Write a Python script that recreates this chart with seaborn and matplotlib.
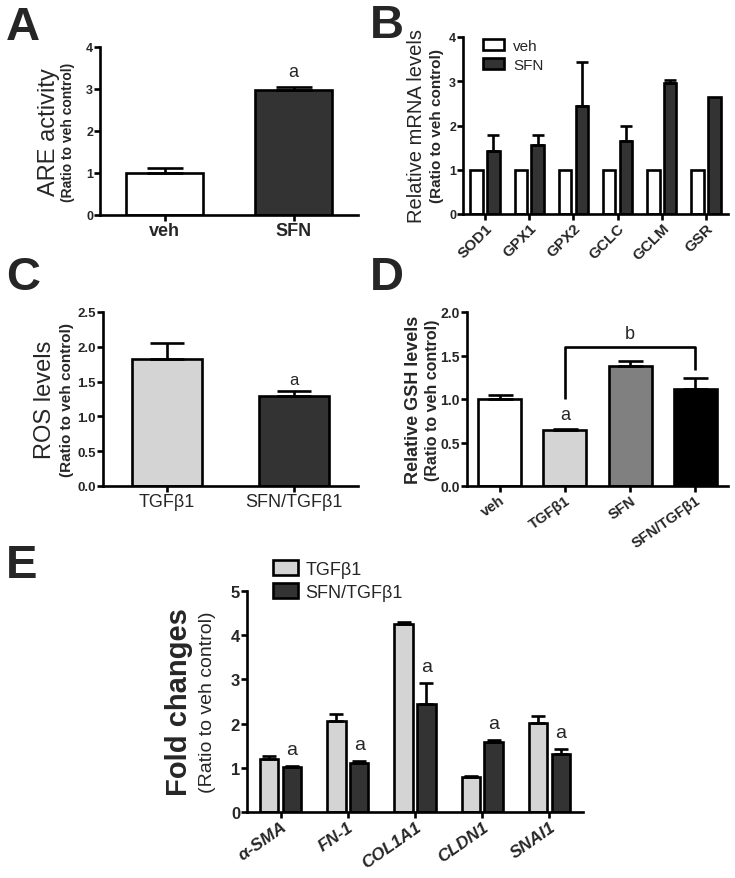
import matplotlib
matplotlib.use('Agg')
import matplotlib.pyplot as plt
import numpy as np
import pandas as pd
import seaborn as sns

sns.set_style('white')
plt.rcParams['font.family'] = ['Liberation Sans', 'DejaVu Sans']

# panel A - ARE activity
a_groups = ['veh', 'SFN']
a_values = [1.0, 2.98]
a_errors = [0.12, 0.06]
a_sig = ['', 'a']

# panel B - mRNA levels
b_genes = ['SOD1', 'GPX1', 'GPX2', 'GCLC', 'GCLM', 'GSR']
b_veh = [1.0, 1.0, 1.0, 1.0, 1.0, 1.0]
b_veh_err = [0, 0, 0, 0, 0, 0]
b_sfn = [1.43, 1.55, 2.45, 1.66, 2.95, 2.65]
b_sfn_err = [0.35, 0.23, 0.99, 0.32, 0.08, 0.0]

# panel C - ROS
c_groups = ['TGFβ1', 'SFN/TGFβ1']
c_values = [1.83, 1.30]
c_errors = [0.22, 0.06]
c_sig = ['', 'a']

# panel D - GSH
d_groups = ['veh', 'TGFβ1', 'SFN', 'SFN/TGFβ1']
d_values = [1.0, 0.64, 1.38, 1.11]
d_errors = [0.05, 0.02, 0.06, 0.13]
d_sig = ['', 'a', '', '']

# panel E - fold changes
e_genes = ['α-SMA', 'FN-1', 'COL1A1', 'CLDN1', 'SNAI1']
e_tgf = [1.21, 2.07, 4.26, 0.79, 2.02]
e_tgf_err = [0.05, 0.15, 0.04, 0.03, 0.16]
e_sfn = [1.01, 1.11, 2.45, 1.59, 1.32]
e_sfn_err = [0.03, 0.05, 0.46, 0.04, 0.10]
e_sig = ['a', 'a', 'a', 'a', 'a']

W, H = 735, 879
LW = 1.9
fig = plt.figure(figsize=(W / 100, H / 100), dpi=100)


def make_ax(l, r, t, b):
    return fig.add_axes([l / W, 1 - b / H, (r - l) / W, (b - t) / H])


def style(ax, top, step, fmt, ysize):
    sns.despine(ax=ax)
    for s in ['left', 'bottom']:
        ax.spines[s].set_linewidth(LW)
        ax.spines[s].set_color('black')
    ax.set_ylim(0, top)
    ticks = np.arange(0, top + step / 2, step)
    ax.set_yticks(ticks)
    ax.set_yticklabels([fmt.format(t) for t in ticks], fontsize=ysize, fontweight='bold')
    ax.tick_params(axis='both', direction='out', width=LW, length=4, color='black', pad=1,
                   left=True, bottom=True)
    ax.set_xlabel('')
    ax.set_ylabel('')


def ylabels(ax, main, sub, off_main, off_sub, main_kw, sub_kw):
    ax.annotate(main, xy=(0, 0.5), xycoords='axes fraction', xytext=(off_main * 0.72, 0),
                textcoords='offset points', rotation=90, ha='center', va='center', **main_kw)
    ax.annotate(sub, xy=(0, 0.5), xycoords='axes fraction', xytext=(off_sub * 0.72, 0),
                textcoords='offset points', rotation=90, ha='center', va='center', **sub_kw)


def add_errors(ax, errs, capsize):
    for p, e in zip(ax.patches, errs):
        if e <= 0:
            continue
        x = p.get_x() + p.get_width() / 2
        ax.errorbar(x, p.get_height(), yerr=[[0], [e]], fmt='none', ecolor='black',
                    elinewidth=LW, capsize=capsize, capthick=LW)


def add_sig(ax, errs, sig, pad, size):
    for p, e, s in zip(ax.patches, errs, sig):
        if s:
            x = p.get_x() + p.get_width() / 2
            ax.text(x, p.get_height() + e + pad, s, ha='center', va='bottom', fontsize=size)


# ---- A
ax = make_ax(100, 358, 48, 216)
dfa = pd.DataFrame({'group': a_groups, 'value': a_values})
sns.barplot(data=dfa, x='group', y='value', hue='group', order=a_groups, hue_order=a_groups,
            palette={'veh': 'white', 'SFN': '#333333'}, legend=False, width=0.6,
            edgecolor='black', linewidth=LW, errorbar=None, ax=ax)
style(ax, 4, 1, '{:.0f}', 9)
ax.set_xlim(-0.5, 1.5)
add_errors(ax, a_errors, 13)
add_sig(ax, a_errors, a_sig, 0.18, 13)
ax.tick_params(axis='x', labelsize=13)
for t in ax.get_xticklabels():
    t.set_fontweight('bold')
ylabels(ax, 'ARE activity', '(Ratio to veh control)', -51, -32,
        dict(fontsize=17), dict(fontsize=10, fontweight='bold'))

# ---- B
ax = make_ax(463, 728, 38, 215)
dfb = pd.DataFrame({'gene': b_genes * 2, 'value': b_veh + b_sfn,
                    'treat': ['veh'] * len(b_genes) + ['SFN'] * len(b_genes)})
sns.barplot(data=dfb, x='gene', y='value', hue='treat', order=b_genes, hue_order=['veh', 'SFN'],
            palette={'veh': 'white', 'SFN': '#333333'}, width=0.76, gap=0.25,
            edgecolor='black', linewidth=LW, errorbar=None, ax=ax)
style(ax, 4, 1, '{:.0f}', 9)
ax.set_xlim(-0.5, 5.5)
add_errors(ax, b_veh_err + b_sfn_err, 4)
h, l = ax.get_legend_handles_labels()
ax.legend(h, l, frameon=False, loc='upper left', bbox_to_anchor=(0.075, 0.99), borderpad=0,
          borderaxespad=0, fontsize=11, handlelength=1.4, handleheight=0.75,
          labelspacing=0.35, handletextpad=0.6)
ax.set_xticks(range(len(b_genes)))
ax.set_xticklabels(b_genes, rotation=45, ha='right', rotation_mode='anchor',
                   fontsize=11, fontweight='bold')
ylabels(ax, 'Relative mRNA levels', '(Ratio to veh control)', -46, -26,
        dict(fontsize=14.5), dict(fontsize=11, fontweight='bold'))

# ---- C
ax = make_ax(103, 358, 313, 487)
dfc = pd.DataFrame({'group': c_groups, 'value': c_values})
sns.barplot(data=dfc, x='group', y='value', hue='group', order=c_groups, hue_order=c_groups,
            palette={'TGFβ1': '#d4d4d4', 'SFN/TGFβ1': '#333333'}, legend=False, width=0.55,
            edgecolor='black', linewidth=LW, errorbar=None, ax=ax)
style(ax, 2.5, 0.5, '{:.1f}', 9.5)
ax.set_xlim(-0.5, 1.5)
add_errors(ax, c_errors, 12)
add_sig(ax, c_errors, c_sig, 0.06, 12)
ax.tick_params(axis='x', labelsize=13)
ylabels(ax, 'ROS levels', '(Ratio to veh control)', -58, -36,
        dict(fontsize=17), dict(fontsize=11, fontweight='bold'))

# ---- D
ax = make_ax(467, 728, 313, 487)
dfd = pd.DataFrame({'group': d_groups, 'value': d_values})
sns.barplot(data=dfd, x='group', y='value', hue='group', order=d_groups, hue_order=d_groups,
            palette={'veh': 'white', 'TGFβ1': '#d4d4d4', 'SFN': '#808080', 'SFN/TGFβ1': 'black'},
            legend=False, width=0.66, edgecolor='black', linewidth=LW, errorbar=None, ax=ax)
style(ax, 2.0, 0.5, '{:.1f}', 10)
ax.set_xlim(-0.5, 3.5)
add_errors(ax, d_errors, 9)
add_sig(ax, d_errors, d_sig, 0.06, 13)
p1, p3 = ax.patches[1], ax.patches[3]
x1 = p1.get_x() + p1.get_width() / 2
x3 = p3.get_x() + p3.get_width() / 2
ax.plot([x1, x1, x3, x3], [1.0, 1.6, 1.6, 1.33], color='black', lw=LW, solid_capstyle='butt')
ax.text((x1 + x3) / 2, 1.66, 'b', ha='center', va='bottom', fontsize=13)
ax.set_xticks(range(len(d_groups)))
ax.set_xticklabels(d_groups, rotation=35, ha='right', rotation_mode='anchor',
                   fontsize=10.5, fontweight='bold')
ylabels(ax, 'Relative GSH levels', '(Ratio to veh control)', -53, -35,
        dict(fontsize=13, fontweight='bold'), dict(fontsize=11.5, fontweight='bold'))

# ---- E
ax = make_ax(247, 583, 592, 813)
dfe = pd.DataFrame({'gene': e_genes * 2, 'value': e_tgf + e_sfn,
                    'treat': ['TGFβ1'] * len(e_genes) + ['SFN/TGFβ1'] * len(e_genes)})
sns.barplot(data=dfe, x='gene', y='value', hue='treat', order=e_genes,
            hue_order=['TGFβ1', 'SFN/TGFβ1'],
            palette={'TGFβ1': '#d4d4d4', 'SFN/TGFβ1': '#333333'}, width=0.68, gap=0.2,
            edgecolor='black', linewidth=LW, errorbar=None, ax=ax)
style(ax, 5, 1, '{:.0f}', 12)
ax.set_xlim(-0.5, 4.5)
add_errors(ax, e_tgf_err + e_sfn_err, 5)
add_sig(ax, [0] * len(e_genes) + e_sfn_err, [''] * len(e_genes) + e_sig, 0.18, 14)
h, l = ax.get_legend_handles_labels()
ax.legend(h, l, frameon=False, loc='upper left', bbox_to_anchor=(0.077, 1.14), borderpad=0,
          borderaxespad=0, fontsize=13, handlelength=1.4, handleheight=0.9,
          labelspacing=0.3, handletextpad=0.4)
ax.set_xticks(range(len(e_genes)))
ax.set_xticklabels(e_genes, rotation=35, ha='right', rotation_mode='anchor',
                   fontsize=12.5, fontweight='bold', fontstyle='italic')
ylabels(ax, 'Fold changes', '(Ratio to veh control)', -68, -40,
        dict(fontsize=21, fontweight='bold'), dict(fontsize=14))

# panel letters
for letter, x, y in [('A', 6, 40), ('B', 370, 38), ('C', 6, 290), ('D', 370, 290), ('E', 6, 578)]:
    fig.text(x / W, 1 - y / H, letter, fontsize=34, fontweight='bold', ha='left', va='baseline')

fig.savefig('out.png', dpi=100, facecolor='white')
